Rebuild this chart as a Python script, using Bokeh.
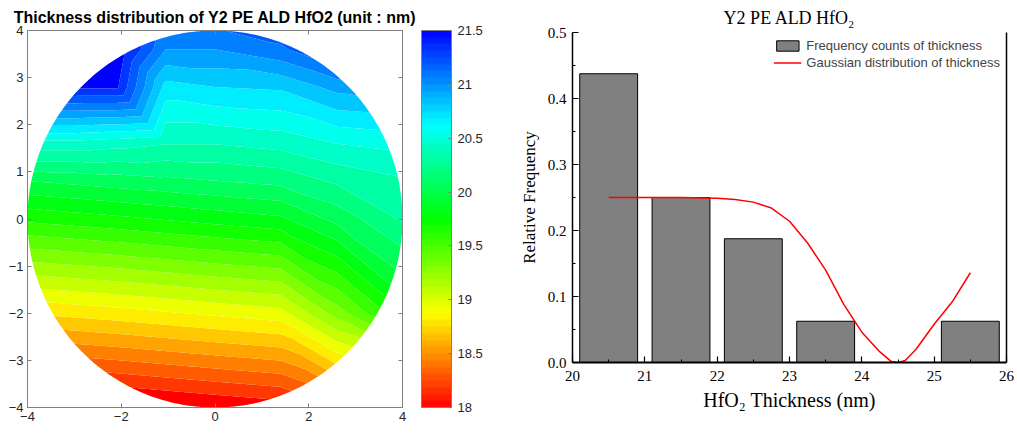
import colorsys
import numpy as np
from bokeh.plotting import figure
from bokeh.layouts import row
from bokeh.models import (ColorBar, LinearColorMapper, FixedTicker, LinearAxis, Range1d,
                          CustomJSTickFormatter, PrintfTickFormatter, Legend, LegendItem)
from bokeh.embed import file_html
from bokeh.resources import INLINE

# ---------------- wafer thickness map (nm) ----------------
# measurement grid node positions (wafer coordinates)
node_x = [-4.5, -3.0, -2.1, -1.05, 0.0, 1.4, 2.6, 4.5]
node_y = [-4.5, -2.0, 0.0, 0.8, 1.6, 2.8, 3.6, 4.5]
# thickness at each node, one list per node_y row
thk_row_m45 = [17.61, 17.67, 17.70, 17.74, 17.78, 17.83, 18.02, 18.32]
thk_row_m20 = [18.74, 18.79, 18.82, 18.86, 18.90, 18.95, 19.31, 19.88]
thk_row_00 = [19.64, 19.69, 19.72, 19.76, 19.80, 19.85, 20.04, 20.35]
thk_row_08 = [19.98, 20.03, 20.06, 20.09, 20.12, 20.16, 20.27, 20.38]
thk_row_16 = [20.45, 20.45, 20.42, 20.38, 20.38, 20.42, 20.50, 20.55]
thk_row_28 = [21.40, 21.40, 21.40, 20.70, 20.75, 20.77, 20.92, 21.05]
thk_row_36 = [21.70, 21.65, 21.50, 21.00, 21.00, 21.10, 21.30, 21.40]
thk_row_45 = [21.80, 21.75, 21.60, 21.25, 21.25, 21.30, 21.45, 21.60]

cbar_low, cbar_high = 18.0, 21.5
cbar_ticks = [18, 18.5, 19, 19.5, 20, 20.5, 21, 21.5]
wafer_radius = 4.0

# ---------------- thickness histogram ----------------
bin_center = [20.5, 21.5, 22.5, 23.5, 24.5, 25.5]
rel_freq = [0.4375, 0.25, 0.1875, 0.0625, 0.0, 0.0625]
curve_x = [20.5, 21.0, 21.5, 22.0, 22.25, 22.5, 22.75, 23.0, 23.25, 23.5, 23.75,
           24.0, 24.25, 24.4, 24.5, 24.6, 24.75, 25.0, 25.25, 25.5]
curve_y = [0.250, 0.250, 0.250, 0.249, 0.247, 0.243, 0.234, 0.214, 0.181, 0.140, 0.088,
           0.046, 0.016, 0.002, 0.000, 0.003, 0.020, 0.058, 0.092, 0.136]


def wafer_color(v):
    f = min(max((v - cbar_low) / (cbar_high - cbar_low), 0.0), 1.0)
    r, g, b = colorsys.hsv_to_rgb(f * 240.0 / 360.0, 1.0, 1.0)
    return "#%02x%02x%02x" % (round(r * 255), round(g * 255), round(b * 255))


# piecewise-linear surface over the node grid (each cell split along its TL-BR diagonal)
nx = np.array(node_x)
ny = np.array(node_y)
Z = np.array([thk_row_m45, thk_row_m20, thk_row_00, thk_row_08,
              thk_row_16, thk_row_28, thk_row_36, thk_row_45])
g = np.linspace(-4.0, 4.0, 401)
GX, GY = np.meshgrid(g, g)
ix = np.clip(np.searchsorted(nx, GX, side="right") - 1, 0, len(nx) - 2)
iy = np.clip(np.searchsorted(ny, GY, side="right") - 1, 0, len(ny) - 2)
s = (GX - nx[ix]) / (nx[ix + 1] - nx[ix])
t = (GY - ny[iy]) / (ny[iy + 1] - ny[iy])
z00 = Z[iy, ix]
z10 = Z[iy, ix + 1]
z01 = Z[iy + 1, ix]
z11 = Z[iy + 1, ix + 1]
V = np.where(s + t <= 1.0,
             z00 + s * (z10 - z00) + t * (z01 - z00),
             z11 + (1 - s) * (z01 - z11) + (1 - t) * (z10 - z11))

levels = [16.0] + list(np.arange(18.125, 21.4, 0.125)) + [23.0]
band_colors = [wafer_color(0.5 * (a + b)) for a, b in zip(levels[:-1], levels[1:])]

SANS = "Liberation Sans"
SERIF = "Liberation Serif"
AX_GRAY = "#808080"

pm = figure(width=485, height=433, x_range=Range1d(-4, 4), y_range=Range1d(-4, 4),
            output_backend="svg", toolbar_location=None, frame_align=False,
            min_border_left=27, min_border_right=82, min_border_top=30, min_border_bottom=26)
pm.title.text = "Thickness distribution of Y2 PE ALD HfO2 (unit : nm)"
pm.title.align = "center"
pm.title.text_font = SANS
pm.title.text_font_size = "16px"
pm.title.text_font_style = "bold"
pm.title.text_color = "black"
pm.outline_line_color = None
pm.grid.visible = False
pm.background_fill_color = "white"

pm.contour(GX, GY, V, levels=levels, fill_color=band_colors)

# white surround outside the wafer edge
theta = np.linspace(0, 2 * np.pi, 361)
pm.multi_polygons(xs=[[[[-5, 5, 5, -5], list(wafer_radius * np.cos(theta))]]],
                  ys=[[[[-5, -5, 5, 5], list(wafer_radius * np.sin(theta))]]],
                  fill_color="white", line_color=None)

xt = FixedTicker(ticks=[-4, -2, 0, 2, 4])
yt = FixedTicker(ticks=[-4, -3, -2, -1, 0, 1, 2, 3, 4])
pm.add_layout(LinearAxis(), "above")
pm.add_layout(LinearAxis(), "right")
for ax in pm.xaxis:
    ax.ticker = xt
for ax in pm.yaxis:
    ax.ticker = yt
for ax in pm.xaxis + pm.yaxis:
    ax.axis_line_color = AX_GRAY
    ax.major_tick_line_color = AX_GRAY
    ax.major_tick_in = 4
    ax.major_tick_out = 0
    ax.minor_tick_line_color = None
    ax.major_label_text_font = SANS
    ax.major_label_text_font_size = "13px"
    ax.major_label_text_color = "#262626"
    ax.major_label_standoff = 4
# top and right edges carry tick marks only
for ax in (pm.above[-1], pm.right[-1]):
    ax.major_label_text_font_size = "1px"
    ax.major_label_text_color = None
    ax.major_label_standoff = 0

cbar_palette = [wafer_color(cbar_low + (i + 0.5) * (cbar_high - cbar_low) / 56) for i in range(56)]
mapper = LinearColorMapper(palette=cbar_palette, low=cbar_low, high=cbar_high)
cb = ColorBar(color_mapper=mapper, ticker=FixedTicker(ticks=cbar_ticks),
              formatter=CustomJSTickFormatter(code="return tick.toString()"),
              width=30, padding=0, margin=0, location=(19, 0),
              bar_line_color=AX_GRAY, major_tick_line_color=AX_GRAY,
              major_tick_in=3, major_tick_out=0, minor_tick_line_color=None,
              label_standoff=6, major_label_text_font=SANS,
              major_label_text_font_size="13px", major_label_text_color="#262626",
              background_fill_color=None, border_line_color=None)
pm.add_layout(cb, "right")

# ---------------- histogram panel ----------------
ph = figure(width=532, height=433, x_range=Range1d(20, 26), y_range=Range1d(0, 0.5),
            output_backend="svg", toolbar_location=None, frame_align=False,
            min_border_left=87, min_border_right=11, min_border_top=32, min_border_bottom=71)
ph.title.text = "Y2 PE ALD HfO\u2082"
ph.title.align = "center"
ph.title.text_font = SERIF
ph.title.text_font_size = "18px"
ph.title.text_font_style = "normal"
ph.title.text_color = "black"
ph.outline_line_color = None
ph.grid.visible = False

bars = ph.vbar(x=bin_center, top=rel_freq, width=0.8, fill_color="#808080",
               line_color="black", line_width=1)
curve = ph.line(curve_x, curve_y, line_color="red", line_width=1.5)

ph.add_layout(LinearAxis(ticker=FixedTicker(ticks=[]), major_tick_line_color=None,
                         minor_tick_line_color=None, major_label_standoff=0,
                         axis_line_width=1.5, axis_line_color="black"), "right")

ph.xaxis[0].ticker = FixedTicker(ticks=[20, 21, 22, 23, 24, 25, 26],
                                 minor_ticks=[20.5, 21.5, 22.5, 23.5, 24.5, 25.5])
ph.yaxis[0].ticker = FixedTicker(ticks=[0.0, 0.1, 0.2, 0.3, 0.4, 0.5],
                                 minor_ticks=[0.05, 0.15, 0.25, 0.35, 0.45])
ph.yaxis[0].formatter = PrintfTickFormatter(format="%.1f")
for ax in [ph.xaxis[0], ph.yaxis[0]]:
    ax.axis_line_color = "black"
    ax.axis_line_width = 1.5
    ax.major_tick_line_color = "black"
    ax.major_tick_line_width = 1.2
    ax.major_tick_in = 6
    ax.major_tick_out = 0
    ax.minor_tick_line_color = "black"
    ax.minor_tick_in = 3
    ax.minor_tick_out = 0
    ax.major_label_text_font = SERIF
    ax.major_label_text_font_size = "15px"
    ax.major_label_text_color = "black"
    ax.axis_label_text_font = SERIF
    ax.axis_label_text_font_style = "normal"
    ax.axis_label_text_color = "black"
ph.xaxis[0].axis_line_width = 2
ph.xaxis[0].major_label_standoff = 8
ph.xaxis[0].axis_label = "HfO\u2082 Thickness (nm)"
ph.xaxis[0].axis_label_text_font_size = "20px"
ph.xaxis[0].axis_label_standoff = 5
ph.yaxis[0].major_label_standoff = 6
ph.yaxis[0].axis_label = "Relative Frequency"
ph.yaxis[0].axis_label_text_font_size = "17px"
ph.yaxis[0].axis_label_standoff = 6

legend = Legend(items=[LegendItem(label="Frequency counts of thickness", renderers=[bars]),
                       LegendItem(label="Gaussian distribution of thickness", renderers=[curve])],
                location="top_right", margin=6, padding=2, spacing=2,
                glyph_width=28, glyph_height=13, label_standoff=5,
                label_text_font=SANS, label_text_font_size="13px",
                label_height=13, border_line_color=None, background_fill_alpha=0)
ph.add_layout(legend)

layout = row(pm, ph)
open("out.html", "w").write(file_html(layout, INLINE))
